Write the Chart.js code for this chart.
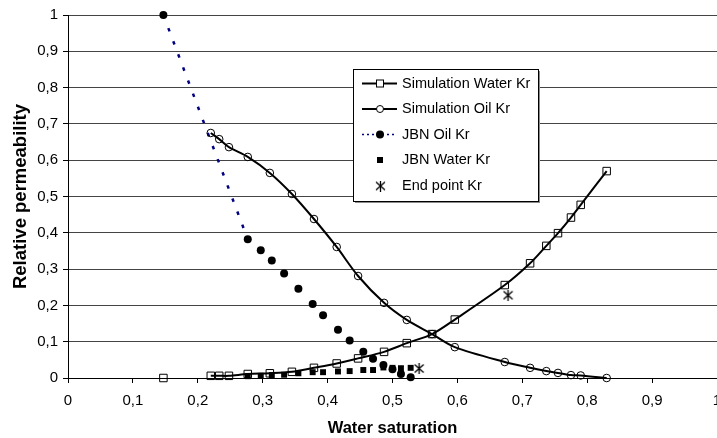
<!DOCTYPE html>
<html><head><meta charset="utf-8">
<script src="https://cdn.jsdelivr.net/npm/chart.js@4.4.0/dist/chart.umd.min.js"></script>
<style>html,body{margin:0;padding:0;background:#fff;overflow:hidden;}</style>
</head><body>
<canvas id="c" width="717" height="438"></canvas>
<script>
// ---- data ----
const simSw   = [0.147, 0.220, 0.233, 0.248, 0.277, 0.311, 0.345, 0.379, 0.414, 0.447, 0.487, 0.522, 0.561, 0.596, 0.673, 0.712, 0.737, 0.755, 0.775, 0.790, 0.830];
const simKrw  = [0.000, 0.006, 0.006, 0.006, 0.011, 0.013, 0.017, 0.028, 0.040, 0.054, 0.072, 0.096, 0.121, 0.161, 0.256, 0.316, 0.364, 0.399, 0.442, 0.477, 0.570];
const simOilSw = [0.220, 0.233, 0.248, 0.277, 0.311, 0.345, 0.379, 0.414, 0.447, 0.487, 0.522, 0.561, 0.596, 0.673, 0.712, 0.737, 0.755, 0.775, 0.790, 0.830];
const simKro  = [0.675, 0.658, 0.636, 0.609, 0.565, 0.507, 0.438, 0.361, 0.281, 0.207, 0.160, 0.121, 0.085, 0.044, 0.028, 0.019, 0.014, 0.008, 0.007, 0.000];
const jbnSw   = [0.147, 0.277, 0.297, 0.314, 0.333, 0.355, 0.377, 0.393, 0.416, 0.434, 0.455, 0.470, 0.486, 0.500, 0.513, 0.528];
const jbnKro  = [1.000, 0.382, 0.352, 0.324, 0.288, 0.246, 0.204, 0.173, 0.133, 0.103, 0.072, 0.053, 0.036, 0.024, 0.011, 0.002];
const jbnWSw  = [0.277, 0.297, 0.314, 0.333, 0.355, 0.377, 0.393, 0.416, 0.434, 0.455, 0.470, 0.486, 0.500, 0.513, 0.528];
const jbnKrw  = [0.005, 0.006, 0.008, 0.009, 0.013, 0.016, 0.016, 0.018, 0.019, 0.022, 0.022, 0.029, 0.028, 0.027, 0.028];
const endSw   = [0.541, 0.678];
const endKr   = [0.026, 0.228];
const seriesNames = ['Simulation Water Kr', 'Simulation Oil Kr', 'JBN Oil Kr', 'JBN Water Kr', 'End point Kr'];
const xTitle = 'Water saturation';
const yTitle = 'Relative permeability';

const FONT = "'Liberation Sans', Arial, sans-serif";
const pts = (xs, ys) => xs.map((x, i) => ({x: x, y: ys[i]}));
const fmt = v => String(Math.round(v * 10) / 10).replace('.', ',');

// asterisk marker
const star = document.createElement('canvas');
star.width = 11; star.height = 11;
(function(){
  const c = star.getContext('2d');
  c.strokeStyle = '#000'; c.lineWidth = 1.3;
  c.beginPath();
  c.moveTo(1, 1.5); c.lineTo(10, 9.5);
  c.moveTo(10, 1.5); c.lineTo(1, 9.5);
  c.moveTo(5.5, 0); c.lineTo(5.5, 11);
  c.stroke();
})();

// let the plot area run to the right edge of the canvas (as in the reference)
const edgePlugin = {
  id: 'edge',
  afterLayout(chart) {
    const ca = chart.chartArea;
    const W = chart.width;
    ca.right = W; ca.width = W - ca.left;
    const xs = chart.scales.x;
    xs.right = W; xs.width = W - xs.left;
    xs.configure();
  }
};

const legendPlugin = {
  id: 'customLegend',
  afterDraw(chart) {
    const ctx = chart.ctx;
    const L = 353.5, T = 69.5, W = 185, H = 132;
    ctx.save();
    ctx.fillStyle = '#8a8a8a';
    ctx.fillRect(L + 1.5, T + 1.5, W, H);
    ctx.fillStyle = '#fff';
    ctx.fillRect(L, T, W, H);
    ctx.strokeStyle = '#000'; ctx.lineWidth = 1;
    ctx.strokeRect(L, T, W, H);
    const ds = chart.data.datasets;
    const x1 = 362, x2 = 397, mx = 380;
    for (let i = 0; i < ds.length; i++) {
      const y = 83.5 + i * 25.5;
      const d = ds[i];
      ctx.save();
      if (i < 3) {
        ctx.beginPath();
        ctx.strokeStyle = i === 2 ? '#000080' : '#000';
        ctx.lineWidth = i === 2 ? 1.5 : 2;
        if (i === 2) ctx.setLineDash([2, 3]);
        ctx.moveTo(x1, y); ctx.lineTo(x2, y); ctx.stroke();
        ctx.setLineDash([]);
      }
      ctx.lineWidth = 1;
      ctx.strokeStyle = '#000';
      if (i === 0) { ctx.fillStyle = '#fff'; ctx.fillRect(mx - 3.5, y - 3.5, 7, 7); ctx.strokeRect(mx - 3.5, y - 3.5, 7, 7); }
      if (i === 1) { ctx.beginPath(); ctx.fillStyle = '#fff'; ctx.arc(mx, y, 3.5, 0, Math.PI * 2); ctx.fill(); ctx.stroke(); }
      if (i === 2) { ctx.beginPath(); ctx.fillStyle = '#000'; ctx.arc(mx, y, 4, 0, Math.PI * 2); ctx.fill(); }
      if (i === 3) { ctx.fillStyle = '#000'; ctx.fillRect(mx - 3, y - 3, 6, 6); }
      if (i === 4) { ctx.drawImage(star, mx - 5, y - 5); }
      ctx.fillStyle = '#000';
      ctx.font = '14.5px ' + FONT;
      ctx.textBaseline = 'middle';
      ctx.textAlign = 'left';
      ctx.fillText(d.label, 402, y);
      ctx.restore();
    }
    ctx.restore();
  }
};

new Chart(document.getElementById('c'), {
  type: 'scatter',
  data: {
    datasets: [
      {
        label: seriesNames[0], data: pts(simSw, simKrw), showLine: true, tension: 0.3,
        borderColor: '#000', borderWidth: 2,
        segment: { borderColor: c => c.p0DataIndex === 0 ? 'rgba(0,0,0,0)' : '#000' },
        pointStyle: 'rect', pointRadius: 5.3, pointBorderWidth: 1,
        pointBorderColor: '#000', pointBackgroundColor: 'rgba(0,0,0,0)', clip: false
      },
      {
        label: seriesNames[1], data: pts(simOilSw, simKro), showLine: true, tension: 0.3,
        borderColor: '#000', borderWidth: 2,
        pointStyle: 'circle', pointRadius: 3.8, pointBorderWidth: 1,
        pointBorderColor: '#000', pointBackgroundColor: 'rgba(0,0,0,0)', clip: false
      },
      {
        label: seriesNames[2], data: pts(jbnSw, jbnKro), showLine: true, tension: 0,
        borderColor: '#000080', borderWidth: 2.5, borderDash: [3.5, 10.5],
        segment: { borderColor: c => c.p0DataIndex === 0 ? '#000080' : 'rgba(0,0,0,0)' },
        pointStyle: 'circle', pointRadius: 4, pointBorderWidth: 0,
        pointBorderColor: '#000', pointBackgroundColor: '#000', clip: false
      },
      {
        label: seriesNames[3], data: pts(jbnWSw, jbnKrw), showLine: false,
        pointStyle: 'rect', pointRadius: 4.2, pointBorderWidth: 0,
        pointBorderColor: '#000', pointBackgroundColor: '#000', clip: false
      },
      {
        label: seriesNames[4], data: pts(endSw, endKr), showLine: false,
        pointStyle: star, pointRadius: 5, clip: false
      }
    ]
  },
  options: {
    responsive: false, animation: false, devicePixelRatio: 1,
    layout: { padding: { top: 15, left: 0, right: 0, bottom: 0 } },
    plugins: { legend: { display: false }, tooltip: { enabled: false } },
    scales: {
      x: {
        type: 'linear', min: 0, max: 1,
        afterFit(s) { s.height = 60; },
        ticks: { stepSize: 0.1, autoSkip: false, maxRotation: 0, minRotation: 0, padding: 9,
                 color: '#000', font: { family: FONT, size: 15 }, callback: fmt },
        grid: { drawOnChartArea: false, drawTicks: true, tickLength: 5, tickColor: '#000', color: '#000' },
        border: { color: '#000', width: 1 },
        title: { display: true, text: xTitle, color: '#000',
                 font: { family: FONT, size: 16.5, weight: 'bold', lineHeight: 1 }, padding: { top: 0, bottom: 1 } }
      },
      y: {
        type: 'linear', min: 0, max: 1,
        afterFit(s) { s.width = 68; s.paddingTop = 0; s.paddingBottom = 0; },
        ticks: { stepSize: 0.1, autoSkip: false, padding: 5,
                 color: '#000', font: { family: FONT, size: 15 }, callback: fmt },
        grid: { drawOnChartArea: true, drawTicks: true, tickLength: 5, tickColor: '#000', color: '#444' },
        border: { color: '#000', width: 1 },
        title: { display: true, text: yTitle, color: '#000',
                 font: { family: FONT, size: 18.5, weight: 'bold', lineHeight: 1 }, padding: { top: 12, bottom: 0 } }
      }
    }
  },
  plugins: [edgePlugin, legendPlugin]
});
</script>
</body></html>
